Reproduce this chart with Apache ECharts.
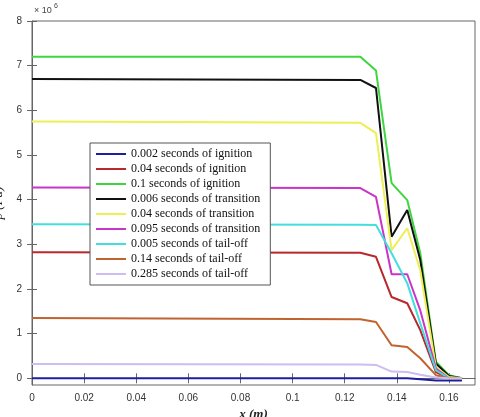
<!DOCTYPE html>
<html><head><meta charset="utf-8">
<script src="https://cdn.jsdelivr.net/npm/echarts@6/dist/echarts.min.js"></script>
<style>html,body{margin:0;padding:0;background:#fff}#c{width:480px;height:417px}</style>
</head><body><div id="c"></div>
<script>
const xs = [0, 0.126, 0.132, 0.138, 0.144, 0.149, 0.155, 0.16, 0.165];
const names = ['0.002 seconds of ignition','0.04 seconds of ignition','0.1 seconds of ignition','0.006 seconds of transition','0.04 seconds of transition','0.095 seconds of transition','0.005 seconds of tail-off','0.14 seconds of tail-off','0.285 seconds of tail-off'];
const colors = ['#1f1f9e','#b8282c','#3ed63e','#111111','#eeee55','#c935c9','#45dede','#c0632f','#cdbdf0'];
const ign002 = [0, 0, 0, 0, 0, -0.02, -0.05, -0.05, -0.05];
const ign04  = [2.82, 2.81, 2.72, 1.82, 1.68, 1.08, 0.14, 0, 0];
const ign1   = [7.2, 7.2, 6.89, 4.37, 3.99, 2.8, 0.37, 0.07, 0];
const tr006  = [6.7, 6.68, 6.5, 3.17, 3.77, 2.65, 0.33, 0.05, 0];
const tr04   = [5.75, 5.72, 5.49, 2.87, 3.36, 2.42, 0.25, 0.03, 0];
const tr095  = [4.27, 4.26, 4.06, 2.33, 2.33, 1.52, 0.22, 0, 0];
const to005  = [3.45, 3.44, 3.43, 2.8, 2.13, 1.23, 0.18, 0, 0];
const to14   = [1.35, 1.32, 1.26, 0.74, 0.7, 0.45, 0.07, 0, 0];
const to285  = [0.32, 0.31, 0.3, 0.15, 0.14, 0.08, 0.02, 0, 0];
const yTicks = [0,1,2,3,4,5,6,7,8];
const xTicks = [0,0.02,0.04,0.06,0.08,0.1,0.12,0.14,0.16];
const all = [ign002, ign04, ign1, tr006, tr04, tr095, to005, to14, to285];

const chart = echarts.init(document.getElementById('c'));
const axLab = {color:'#333', fontFamily:'Liberation Sans', fontSize:10};
const grid = {left:32, right:5, top:21, bottom:32, containLabel:false, outerBoundsMode:'none', show:true, borderColor:'#666', borderWidth:1};
chart.setOption({
  animation:false,
  grid: grid,
  xAxis: [{type:'value', min:0, max:0.17, axisLine:{lineStyle:{color:'#666'}},
    axisTick:{inside:true, customValues:xTicks, lineStyle:{color:'#666'}},
    axisLabel:Object.assign({customValues:xTicks, formatter:v=>v===0?'0':String(+v.toFixed(2))}, axLab),
    splitLine:{show:false},
    name:'x (m)', nameLocation:'middle', nameGap:20,
    nameTextStyle:{fontFamily:'Liberation Serif', fontSize:13, fontWeight:'bold', fontStyle:'italic', color:'#222'}},
    {type:'value', position:'top', min:0, max:0.17, axisLine:{show:false},
    axisTick:{inside:true, customValues:xTicks, lineStyle:{color:'#666'}}, axisLabel:{show:false}, splitLine:{show:false}}],
  yAxis: [{type:'value', min:-0.15, max:8, axisLine:{lineStyle:{color:'#666'}},
    axisTick:{inside:true, customValues:yTicks, lineStyle:{color:'#666'}},
    axisLabel:Object.assign({customValues:yTicks, margin:10}, axLab), splitLine:{show:false},
    name:'p (Pa)', nameLocation:'middle', nameGap:22,
    nameTextStyle:{fontFamily:'Liberation Serif', fontSize:13, fontStyle:'italic', color:'#222'}},
    {type:'value', position:'right', min:-0.15, max:8, axisLine:{show:false},
    axisTick:{inside:true, customValues:yTicks, lineStyle:{color:'#666'}}, axisLabel:{show:false}, splitLine:{show:false}}],
  legend: {orient:'vertical', left:90, top:143, itemGap:3, itemWidth:30, itemHeight:2,
    icon:'rect', backgroundColor:'#fff', borderColor:'#555', borderWidth:1, padding:[5,10,5,6],
    textStyle:{fontFamily:'Liberation Serif', fontSize:12, color:'#111'}, data:names},
  graphic:[{type:'text', left:34, top:6, style:{text:'× 10', fontSize:9, fontFamily:'Liberation Sans', fill:'#444'}},
           {type:'text', left:54, top:3, style:{text:'6', fontSize:7, fontFamily:'Liberation Sans', fill:'#444'}}],
  series: all.map((arr,i)=>({name:names[i], type:'line', showSymbol:false, color:colors[i],
    lineStyle:{width:2, color:colors[i]}, data: xs.map((x,j)=>[x, arr[j]])}))
});
</script></body></html>
